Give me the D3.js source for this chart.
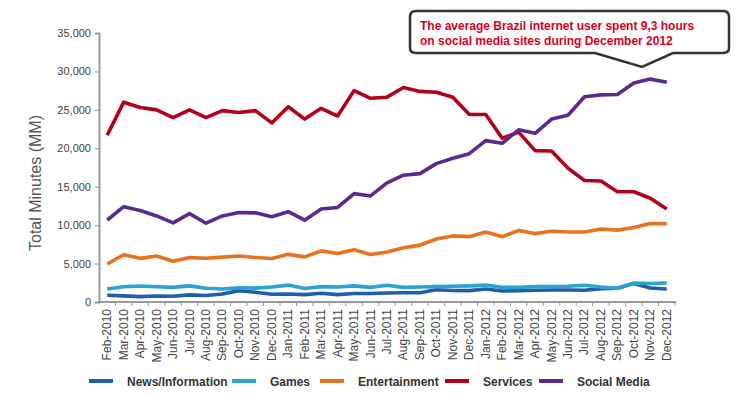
<!DOCTYPE html>
<html>
<head>
<meta charset="utf-8">
<script src="https://cdn.jsdelivr.net/npm/d3@7"></script>
<style>
  body { margin: 0; background: #fff; }
  text { font-family: "Liberation Sans", Arial, sans-serif; }
</style>
</head>
<body>
<script>
// months on the x axis
const months = ["Feb-2010","Mar-2010","Apr-2010","May-2010","Jun-2010","Jul-2010","Aug-2010","Sep-2010","Oct-2010","Nov-2010","Dec-2010",
  "Jan-2011","Feb-2011","Mar-2011","Apr-2011","May-2011","Jun-2011","Jul-2011","Aug-2011","Sep-2011","Oct-2011","Nov-2011","Dec-2011",
  "Jan-2012","Feb-2012","Mar-2012","Apr-2012","May-2012","Jun-2012","Jul-2012","Aug-2012","Sep-2012","Oct-2012","Nov-2012","Dec-2012"];

// total minutes (MM)
const newsInfo = [870,800,700,780,740,930,850,1050,1480,1260,1000,1040,960,1130,960,1100,1100,1170,1200,1200,1600,1500,1480,1700,1430,1480,1520,1570,1570,1520,1740,1780,2390,1830,1700];
const games = [1680,1980,2080,1980,1900,2100,1780,1700,1850,1800,1950,2200,1760,2000,1950,2100,1900,2170,1900,1950,2000,2040,2100,2200,1900,1900,2000,2000,2040,2170,1950,1780,2480,2400,2480];
const entertainment = [4950,6150,5680,5980,5300,5780,5700,5840,5980,5800,5650,6200,5870,6650,6300,6800,6170,6500,7050,7400,8200,8600,8500,9100,8500,9300,8900,9200,9100,9100,9500,9350,9700,10200,10200];
const services = [21700,26000,25300,25000,24000,25000,24000,24900,24650,24900,23300,25400,23800,25200,24200,27500,26500,26650,27900,27400,27300,26650,24400,24400,21300,22100,19700,19650,17400,15800,15750,14350,14350,13500,12100];
const socialMedia = [10650,12400,11900,11200,10300,11500,10250,11200,11650,11600,11100,11750,10650,12100,12300,14100,13800,15500,16500,16700,18000,18700,19300,21000,20650,22400,21950,23800,24300,26700,26950,27000,28500,29000,28600];

const seriesNames = ["News/Information","Games","Entertainment","Services","Social Media"];
const seriesColors = ["#1f5ea8","#2ba3d0","#e5731f","#b4001a","#5a2a8e"];
const seriesValues = [newsInfo, games, entertainment, services, socialMedia];

const yTicks = [0,5000,10000,15000,20000,25000,30000,35000];

const W = 734, H = 397;
const svg = d3.select("body").append("svg").attr("width", W).attr("height", H);

const x = d3.scaleBand().domain(months).range([99, 675]).padding(0);
const y = d3.scaleLinear().domain([0, 35000]).range([302, 33]);

// y axis
const yAxis = svg.append("g").attr("transform", "translate(99,0)")
  .call(d3.axisLeft(y).tickValues(yTicks).tickSize(4).tickFormat(d3.format(",")));
yAxis.select(".domain").attr("stroke", "#999").attr("stroke-width", 2);
yAxis.selectAll(".tick line").attr("stroke", "#999");
yAxis.selectAll(".tick text").attr("fill", "#444").attr("font-size", 11).attr("x", -8)
  .style("font-family", "Liberation Sans, Arial, sans-serif");

// x axis line + ticks at band boundaries
svg.append("line").attr("x1", 98).attr("x2", 676).attr("y1", 302).attr("y2", 302)
  .attr("stroke", "#999").attr("stroke-width", 2);
svg.selectAll(".xtick").data(months).enter().append("line")
  .attr("x1", d => x(d) + x.bandwidth()).attr("x2", d => x(d) + x.bandwidth())
  .attr("y1", 302).attr("y2", 306).attr("stroke", "#999");
svg.selectAll(".xlab").data(months).enter().append("text")
  .attr("transform", d => `translate(${x(d) + x.bandwidth() / 2 + 4},309) rotate(-90)`)
  .attr("text-anchor", "end")
  .attr("font-size", 12).attr("fill", "#444")
  .text(d => d);

// y label
svg.append("text")
  .attr("transform", "translate(41,183) rotate(-90)")
  .attr("text-anchor", "middle").attr("font-size", 16).attr("fill", "#555")
  .text("Total Minutes (MM)");

// lines
const line = d3.line()
  .x((d, i) => x(months[i]) + x.bandwidth() / 2)
  .y(d => y(d))
  .curve(d3.curveLinear);

seriesValues.forEach((vals, k) => {
  svg.append("path")
    .attr("d", line(vals))
    .attr("fill", "none")
    .attr("stroke", seriesColors[k])
    .attr("stroke-width", 3.6)
    .attr("stroke-linejoin", "round");
});

// legend
const legendX = [89, 232, 320, 445, 539];
seriesNames.forEach((name, k) => {
  const g = svg.append("g").attr("transform", `translate(${legendX[k]},381)`);
  g.append("line").attr("x1", 0).attr("x2", 24).attr("stroke", seriesColors[k]).attr("stroke-width", 4);
  g.append("text").attr("x", 38).attr("y", 4.5).attr("font-size", 12).attr("font-weight", "bold")
    .attr("fill", "#333").text(name);
});

// callout
const callout = d3.path();
callout.moveTo(416, 11);
callout.lineTo(723, 11);
callout.quadraticCurveTo(729, 11, 729, 17);
callout.lineTo(729, 48);
callout.quadraticCurveTo(729, 53, 723, 53);
callout.lineTo(673, 53);
callout.lineTo(642, 67);
callout.lineTo(595, 53);
callout.lineTo(416, 53);
callout.quadraticCurveTo(410, 53, 410, 48);
callout.lineTo(410, 17);
callout.quadraticCurveTo(410, 11, 416, 11);
callout.closePath();
svg.append("path").attr("d", callout.toString())
  .attr("fill", "#fff").attr("stroke", "#333").attr("stroke-width", 2.5);
const calloutLines = ["The average Brazil internet user spent 9,3 hours", "on social media sites during December 2012"];
svg.selectAll(".callout").data(calloutLines).enter().append("text")
  .attr("x", 420).attr("y", (d, i) => 30 + i * 15)
  .attr("font-size", 12).attr("font-weight", "bold").attr("fill", "#d7001d")
  .text(d => d);
</script>
</body>
</html>
